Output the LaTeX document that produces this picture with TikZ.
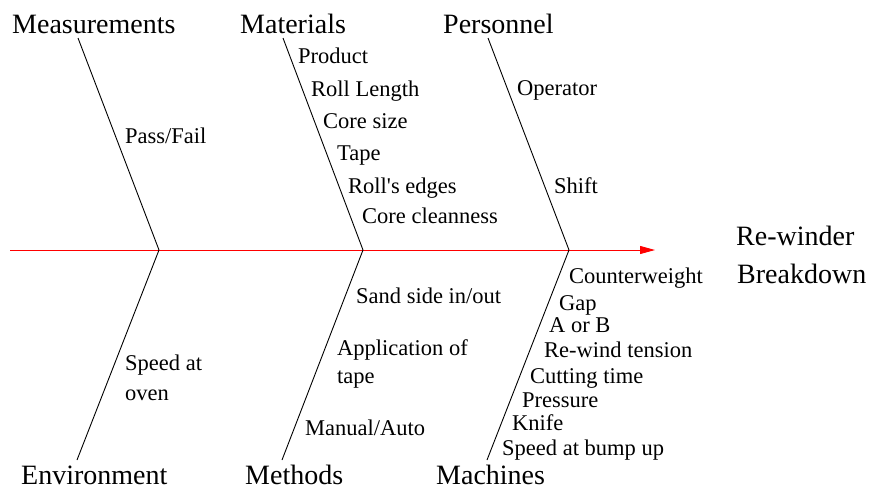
\documentclass[tikz,border=0pt]{standalone}
\usepackage{fontspec}
\setmainfont{Liberation Serif}
\newfontfamily\timesfont{Liberation Serif}
\usetikzlibrary{arrows.meta}

\begin{document}
\begin{tikzpicture}[x=1pt, y=-1pt,
    category/.style={anchor=base west, inner sep=0pt, font=\timesfont\fontsize{28}{33}\selectfont},
    cause/.style={anchor=base west, inner sep=0pt, font=\timesfont\fontsize{22.5}{27}\selectfont},
    bone/.style={line width=0.9pt}]

    \useasboundingbox (0,0) rectangle (872,490);

    % First draw the spine and the effect
    \coordinate (tail) at (10,250);
    \coordinate (head) at (655,250);
    \draw[red, line width=0.9pt, -{Triangle[length=15pt,width=8pt]}] (tail) -- (head);
    \node[category] (effect1) at (736,245) {Re-winder};
    \node[category] (effect2) at (737,283) {Breakdown};

    % Define the joints and the bone ends
    \coordinate (J1) at (159,250);
    \coordinate (J2) at (363,250);
    \coordinate (J3) at (569,250);
    \coordinate (meas) at (78,38);
    \coordinate (mat) at (283,38);
    \coordinate (pers) at (488,38);
    \coordinate (env) at (77,460);
    \coordinate (meth) at (282,460);
    \coordinate (mach) at (487,460);

    % Draw the bones
    \draw[bone] (meas) -- (J1) -- (env);
    \draw[bone] (mat) -- (J2) -- (meth);
    \draw[bone] (pers) -- (J3) -- (mach);

    % Label the categories
    \node[category] (Measurements) at (12,33) {Measurements};
    \node[category] (Materials) at (240,33) {Materials};
    \node[category] (Personnel) at (443,33) {Personnel};
    \node[category] (Environment) at (21,484) {Environment};
    \node[category] (Methods) at (245,484) {Methods};
    \node[category] (Machines) at (436,484) {Machines};

    % Causes on the upper bones
    \node[cause] (meas1) at (125,143) {Pass/Fail};
    \foreach \txt/\x/\y [count=\i] in {Product/298/63, Roll Length/311/96,
        Core size/323/128, Tape/337/160, Roll\textquotesingle s edges/348/193,
        Core cleanness/362/223}
      \node[cause] (mat\i) at (\x,\y) {\txt};
    \node[cause] (pers1) at (517,95) {Operator};
    \node[cause] (pers2) at (554,193) {Shift};

    % Causes on the lower bones
    \node[cause] (env1) at (125,370) {Speed at};
    \node[cause] (env2) at (125,400) {oven};
    \node[cause] (meth1) at (356,303) {Sand side in/out};
    \node[cause] (meth2) at (337,355) {Application of};
    \node[cause] (meth3) at (337,383) {tape};
    \node[cause] (meth4) at (305,435) {Manual/Auto};
    \foreach \txt/\x/\y [count=\i] in {Counterweight/569/283, Gap/559/310,
        A or B/549/332, Re-wind tension/544/357, Cutting time/530/383,
        Pressure/522/407, Knife/512/430, Speed at bump up/502/455}
      \node[cause] (mach\i) at (\x,\y) {\txt};
  \end{tikzpicture}
\end{document}
